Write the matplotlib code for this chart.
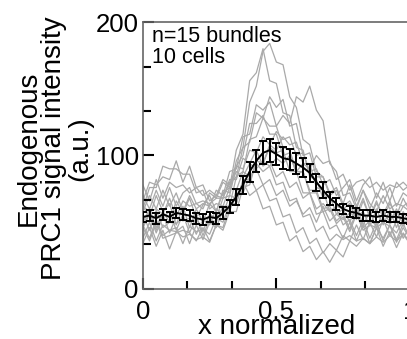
import numpy as np
import matplotlib.pyplot as plt
from matplotlib.ticker import FixedLocator

plt.rcParams['font.family'] = ['Liberation Sans', 'DejaVu Sans']

# x positions (normalized along bundle)
x_norm = np.linspace(0, 1, 41)

# single bundle profiles (a.u.)
t1 = [62,54,70,58,50,66,57,68,53,63,70,58,74,72,96,106,140,152,178,184,170,168,144,136,112,108,88,84,70,74,62,66,56,68,54,64,56,66,52,62,58]
t2 = [50,60,46,58,64,48,62,46,60,50,64,58,72,76,104,116,156,162,180,156,154,132,130,106,104,84,82,68,70,56,60,50,62,48,58,46,58,50,60,48,54]
t3 = [58,70,60,74,62,72,58,70,60,64,62,74,70,88,90,114,116,138,134,140,122,130,124,144,140,152,134,126,94,88,70,72,60,74,64,58,70,60,64,62,66]
t4 = [70,60,74,62,76,62,72,76,64,66,64,68,68,80,84,106,110,132,128,144,136,142,122,124,100,102,84,84,72,76,64,78,62,74,60,72,64,76,62,72,68]
t5 = [46,56,42,54,58,44,56,42,54,40,52,50,62,62,84,88,112,114,128,122,122,106,104,88,88,72,72,58,60,49,54,43,56,44,48,46,50,47,42,52,46]
t6 = [78,66,82,68,80,76,78,72,76,70,74,70,82,78,92,90,104,102,114,108,118,112,114,100,102,88,90,78,82,70,76,82,66,78,84,68,80,66,80,74,78]
t7 = [46,36,50,38,40,42,44,42,36,46,36,48,44,58,58,76,78,96,94,106,102,104,88,88,72,72,56,58,45,48,38,50,36,48,34,46,38,48,35,46,38]
t8 = [66,80,78,84,82,96,80,92,76,78,66,70,68,82,82,98,94,104,92,96,84,88,76,80,68,72,60,64,58,62,60,64,52,66,54,66,53,64,55,68,58]
t9 = [34,46,32,44,30,43,39,41,37,39,35,48,46,62,64,82,82,94,88,92,78,80,66,68,54,56,43,47,36,41,37,40,36,38,34,46,32,43,31,42,35]
t10 = [48,38,52,40,44,43,47,34,48,37,50,46,59,58,74,72,84,74,78,66,68,54,56,42,46,34,38,27,34,29,40,36,48,37,50,39,52,40,51,38,47]
t11 = [46,58,44,56,42,54,51,53,41,52,48,60,56,70,68,80,70,74,60,62,48,50,36,40,28,32,22,28,20,29,24,36,32,38,34,39,35,40,36,41,34]
t12 = [62,58,60,56,68,54,66,62,64,60,72,68,80,76,88,84,94,90,96,92,98,94,100,88,94,90,100,94,96,82,86,74,80,82,76,80,74,78,76,80,75]
t13 = [56,44,59,46,50,49,53,50,54,43,56,53,68,70,92,100,124,124,130,116,116,100,102,86,88,74,74,60,62,51,56,45,58,46,51,48,53,49,52,47,54]
t14 = [60,76,76,92,90,90,86,86,72,74,60,64,62,76,74,88,84,90,78,82,70,74,62,66,56,61,50,62,51,56,52,57,54,58,47,60,48,59,46,58,48]
t15 = [38,50,36,48,44,46,34,47,43,45,41,53,50,64,64,80,80,96,94,108,104,114,108,110,94,94,76,74,58,60,48,52,40,52,38,50,36,48,37,49,38]
traces = [t1, t2, t3, t4, t5, t6, t7, t8, t9, t10, t11, t12, t13, t14, t15]

# mean profile and error
mean_val = [54,55,53,56,54,57,56,55,53,52,54,53,57,62,69,78,88,96,102,104,101,98,97,94,91,87,80,74,68,64,60,58,57,55,55,54,55,54,54,53,52]
err_val = [4,4,4,4,4,4,4,4,4,4,4,4,4.5,5,6,7,7.5,8,8.5,8.5,8,8,8,7.5,7,7,6.5,6,5,4.5,4,4,4,4,4,4,4,4,3.5,3.5,3.5]

fig = plt.figure(figsize=(4.07, 3.39), dpi=100)
ax = fig.add_axes([0.351, 0.1475, 0.656, 0.7876])

for t in traces:
    ax.plot(x_norm, t, color='#a9a9a9', lw=0.9, zorder=1)

ax.errorbar(x_norm, mean_val, yerr=err_val, color='black', lw=1.4,
            elinewidth=1.4, capsize=3, capthick=1.4, zorder=3)

ax.set_xlim(0, 1)
ax.set_ylim(0, 200)

ax.xaxis.set_major_locator(FixedLocator([0, 0.5, 1]))
ax.xaxis.set_minor_locator(FixedLocator([1/6, 2/6, 4/6, 5/6]))
ax.yaxis.set_major_locator(FixedLocator([0, 100, 200]))
ax.yaxis.set_minor_locator(FixedLocator([200/6, 400/6, 800/6, 1000/6]))
ax.set_xticklabels(['0', '0.5', '1'])
ax.set_yticklabels(['0', '100', '200'])

ax.tick_params(which='both', direction='in', labelsize=18.5, color='black', width=1.5)
ax.tick_params(which='major', length=8, pad=3)
ax.tick_params(which='minor', length=6)
ax.tick_params(axis='x', pad=8)

for s in ax.spines.values():
    s.set_color('#666666')
    s.set_linewidth(1.2)

ax.set_xlabel('x normalized', fontsize=20, labelpad=-7)
ax.set_ylabel('Endogenous\nPRC1 signal intensity\n(a.u.)', fontsize=20, linespacing=1.0)
ax.yaxis.set_label_coords(-0.185, 0.526)

ax.text(0.035, 0.985, 'n=15 bundles\n10 cells', transform=ax.transAxes,
        fontsize=15.5, va='top', ha='left', linespacing=1.0)

fig.savefig('out.png', dpi=100)
